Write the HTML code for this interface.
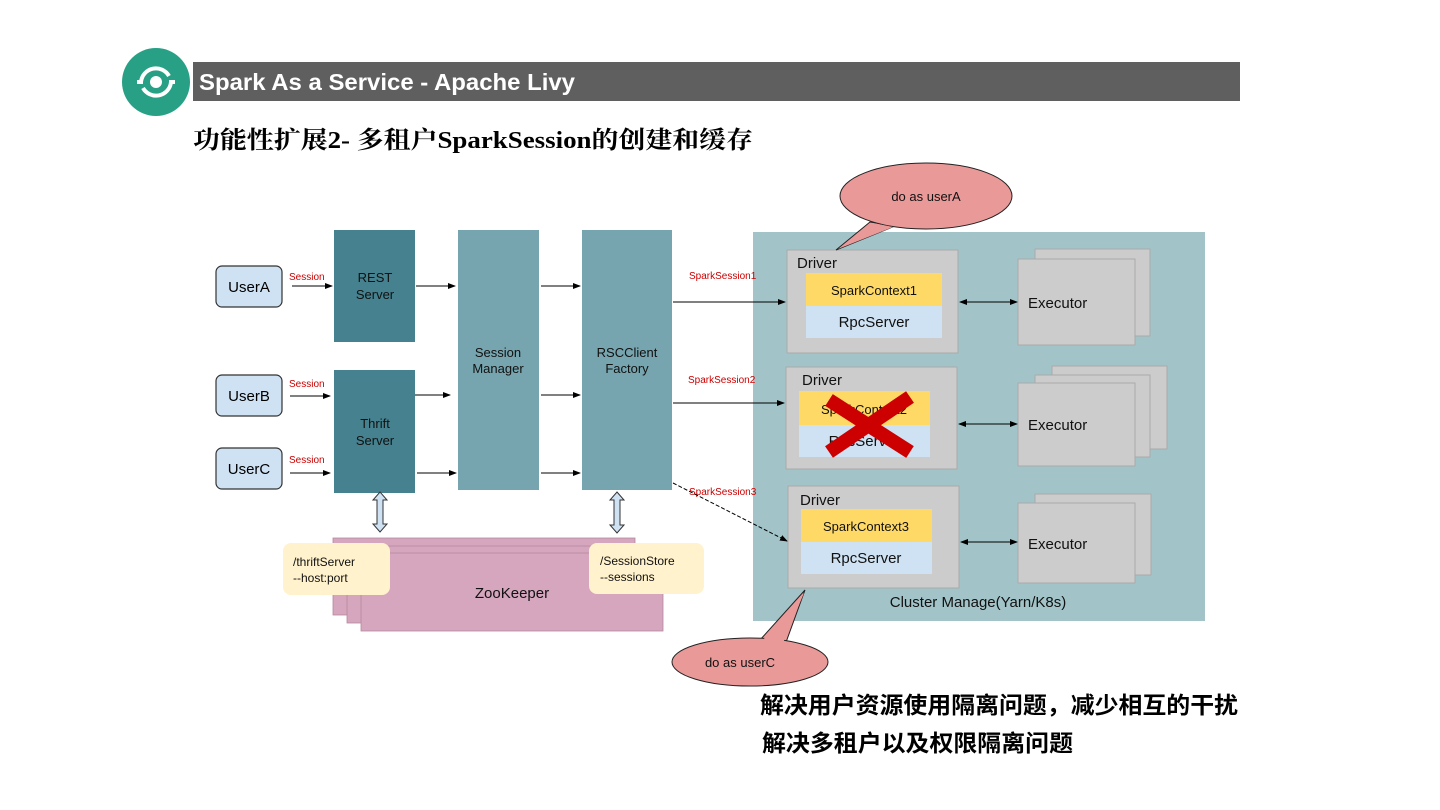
<!DOCTYPE html>
<html><head><meta charset="utf-8"><style>
html,body{margin:0;padding:0;background:#fff;}
svg{display:block;}
text{font-family:"Liberation Sans","Noto Sans CJK SC",sans-serif;}
</style></head><body>
<svg width="1440" height="810" viewBox="0 0 1440 810" xmlns="http://www.w3.org/2000/svg">
<defs>
<marker id="ah" markerWidth="8" markerHeight="8" refX="7" refY="4" orient="auto" markerUnits="userSpaceOnUse"><path d="M0,1 L8,4 L0,7 Z" fill="#000"/></marker>
<marker id="ahs" markerWidth="8" markerHeight="8" refX="1" refY="4" orient="auto" markerUnits="userSpaceOnUse"><path d="M8,1 L0,4 L8,7 Z" fill="#000"/></marker>
</defs>
<circle cx="156" cy="82" r="34" fill="#28a085"/>
<circle cx="156" cy="82" r="6" fill="#fff"/>
<path d="M141,82 a15,15 0 0 1 28,-6" stroke="#fff" stroke-width="4" fill="none"/>
<path d="M171,82 a15,15 0 0 1 -28,6" stroke="#fff" stroke-width="4" fill="none"/>
<line x1="137" y1="82" x2="143" y2="82" stroke="#fff" stroke-width="4"/>
<line x1="169" y1="82" x2="175" y2="82" stroke="#fff" stroke-width="4"/>
<rect x="193" y="62" width="1047" height="39" fill="#5f5f5f"/>
<text x="199" y="90" fill="#fff" font-size="23" font-weight="bold" textLength="376" lengthAdjust="spacingAndGlyphs">Spark As a Service - Apache Livy</text>
<text x="193" y="148" fill="#000" font-size="24" font-weight="bold" textLength="560" lengthAdjust="spacingAndGlyphs" style="font-family:'Liberation Serif','Noto Serif CJK SC',serif">功能性扩展2- 多租户SparkSession的创建和缓存</text>

<g font-size="15" fill="#000">
<rect x="216" y="266" width="66" height="41" rx="6" fill="#cfe2f3" stroke="#333" stroke-width="1.2"/>
<text x="249" y="292" text-anchor="middle">UserA</text>
<rect x="216" y="375" width="66" height="41" rx="6" fill="#cfe2f3" stroke="#333" stroke-width="1.2"/>
<text x="249" y="401" text-anchor="middle">UserB</text>
<rect x="216" y="448" width="66" height="41" rx="6" fill="#cfe2f3" stroke="#333" stroke-width="1.2"/>
<text x="249" y="474" text-anchor="middle">UserC</text>
</g>
<g font-size="10" fill="#cc0000">
<text x="289" y="280">Session</text>
<text x="289" y="387">Session</text>
<text x="289" y="463">Session</text>
</g>
<g stroke="#000" stroke-width="1" marker-end="url(#ah)">
<line x1="292" y1="286" x2="332" y2="286"/>
<line x1="290" y1="396" x2="330" y2="396"/>
<line x1="290" y1="473" x2="330" y2="473"/>
<line x1="416" y1="286" x2="455" y2="286"/>
<line x1="413" y1="395" x2="450" y2="395"/>
<line x1="417" y1="473" x2="456" y2="473"/>
<line x1="541" y1="286" x2="580" y2="286"/>
<line x1="541" y1="395" x2="580" y2="395"/>
<line x1="541" y1="473" x2="580" y2="473"/>
</g>
<rect x="334" y="230" width="81" height="112" fill="#45818e"/>
<rect x="334" y="370" width="81" height="123" fill="#45818e"/>
<rect x="458" y="230" width="81" height="260" fill="#76a5af"/>
<rect x="582" y="230" width="90" height="260" fill="#76a5af"/>
<g font-size="13" fill="#111" text-anchor="middle">
<text x="375" y="282">REST</text><text x="375" y="299">Server</text>
<text x="375" y="428">Thrift</text><text x="375" y="445">Server</text>
<text x="498" y="357">Session</text><text x="498" y="373">Manager</text>
<text x="627" y="357">RSCClient</text><text x="627" y="373">Factory</text>
</g>

<rect x="333" y="538" width="302" height="77" fill="#d5a6bd" stroke="#b58aa0" stroke-width="0.8"/>
<rect x="347" y="546" width="302" height="77" fill="#d5a6bd" stroke="#b58aa0" stroke-width="0.8"/>
<rect x="361" y="553" width="302" height="78" fill="#d5a6bd" stroke="#b58aa0" stroke-width="0.8"/>
<text x="512" y="598" font-size="15" text-anchor="middle" fill="#111">ZooKeeper</text>
<rect x="283" y="543" width="107" height="52" rx="8" fill="#fff2cc"/>
<text x="293" y="566" font-size="12" fill="#111">/thriftServer</text>
<text x="293" y="582" font-size="12" fill="#111">--host:port</text>
<rect x="589" y="543" width="115" height="51" rx="8" fill="#fff2cc"/>
<text x="600" y="565" font-size="12" fill="#111">/SessionStore</text>
<text x="600" y="581" font-size="12" fill="#111">--sessions</text>
<path d="M380,492 L387,500 L383,500 L383,524 L387,524 L380,532 L373,524 L377,524 L377,500 L373,500 Z" fill="#cfe2f3" stroke="#333" stroke-width="1"/>
<path d="M617,492 L624,500 L620,500 L620,525 L624,525 L617,533 L610,525 L614,525 L614,500 L610,500 Z" fill="#cfe2f3" stroke="#333" stroke-width="1"/>

<rect x="753" y="232" width="452" height="389" fill="#a2c4c9"/>
<g font-size="10" fill="#cc0000">
<text x="689" y="279">SparkSession1</text>
<text x="688" y="383">SparkSession2</text>
<text x="689" y="495">SparkSession3</text>
</g>
<g stroke="#000" stroke-width="1" marker-end="url(#ah)">
<line x1="673" y1="302" x2="785" y2="302"/>
<line x1="673" y1="403" x2="784" y2="403"/>
<line x1="673" y1="483" x2="787" y2="541" stroke-dasharray="4,2"/>
</g>
<g fill="#cccccc" stroke="#aaa" stroke-width="1">
<rect x="787" y="250" width="171" height="103"/>
<rect x="786" y="367" width="171" height="102"/>
<rect x="788" y="486" width="171" height="102"/>
<rect x="1035" y="249" width="115" height="87"/>
<rect x="1018" y="259" width="117" height="86"/>
<rect x="1052" y="366" width="115" height="83"/>
<rect x="1035" y="375" width="115" height="82"/>
<rect x="1018" y="383" width="117" height="83"/>
<rect x="1035" y="494" width="116" height="81"/>
<rect x="1018" y="503" width="117" height="80"/>
</g>
<rect x="806" y="273" width="136" height="33" fill="#ffd966"/>
<rect x="806" y="306" width="136" height="32" fill="#cfe2f3"/>
<rect x="799" y="391" width="131" height="34" fill="#ffd966"/>
<rect x="799" y="425" width="131" height="32" fill="#cfe2f3"/>
<rect x="801" y="509" width="131" height="33" fill="#ffd966"/>
<rect x="801" y="542" width="131" height="32" fill="#cfe2f3"/>
<g font-size="15" fill="#111">
<text x="797" y="268">Driver</text>
<text x="802" y="385">Driver</text>
<text x="800" y="505">Driver</text>
<text x="874" y="295" text-anchor="middle" font-size="13">SparkContext1</text>
<text x="874" y="327" text-anchor="middle">RpcServer</text>
<text x="864" y="414" text-anchor="middle" font-size="13">SparkContext2</text>
<text x="864" y="446" text-anchor="middle">RpcServer</text>
<text x="866" y="531" text-anchor="middle" font-size="13">SparkContext3</text>
<text x="866" y="563" text-anchor="middle">RpcServer</text>
<text x="1028" y="308">Executor</text>
<text x="1028" y="430">Executor</text>
<text x="1028" y="549">Executor</text>
<text x="978" y="607" text-anchor="middle">Cluster Manage(Yarn/K8s)</text>
</g>
<g stroke="#000" stroke-width="1" marker-end="url(#ah)" marker-start="url(#ahs)">
<line x1="960" y1="302" x2="1017" y2="302"/>
<line x1="959" y1="424" x2="1017" y2="424"/>
<line x1="961" y1="542" x2="1017" y2="542"/>
</g>
<g stroke="#cc0000" stroke-width="14">
<line x1="829" y1="400" x2="910" y2="452"/>
<line x1="910" y1="397" x2="829" y2="452"/>
</g>

<path d="M870,222 L836,250 L895,226 Z" fill="#ea9999" stroke="#222" stroke-width="1"/>
<ellipse cx="926" cy="196" rx="86" ry="33" fill="#ea9999" stroke="#222" stroke-width="1"/>
<path d="M872,223 L838,249 L893,227" fill="#ea9999" stroke="none"/>
<text x="926" y="201" font-size="13" text-anchor="middle" fill="#111">do as userA</text>
<path d="M760,640 L805,590 L785,645 Z" fill="#ea9999" stroke="#222" stroke-width="1"/>
<ellipse cx="750" cy="662" rx="78" ry="24" fill="#ea9999" stroke="#222" stroke-width="1"/>
<path d="M762,641 L804,593 L783,643" fill="#ea9999" stroke="none"/>
<text x="740" y="667" font-size="13" text-anchor="middle" fill="#111">do as userC</text>

<g font-size="23" font-weight="bold" fill="#000">
<text x="760" y="713" textLength="478" lengthAdjust="spacingAndGlyphs">解决用户资源使用隔离问题，减少相互的干扰</text>
<text x="762" y="751" textLength="311" lengthAdjust="spacingAndGlyphs">解决多租户以及权限隔离问题</text>
</g>
</svg>
</body></html>
